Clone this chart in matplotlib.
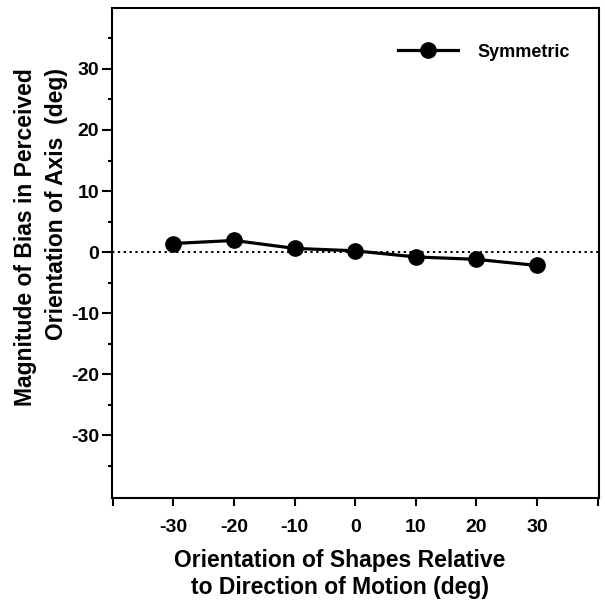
import numpy as np
import matplotlib.pyplot as plt

plt.rcParams['font.family'] = ['Liberation Sans', 'DejaVu Sans']
plt.rcParams['font.weight'] = 'bold'
plt.rcParams['axes.unicode_minus'] = False

orient = [-30, -20, -10, 0, 10, 20, 30]
bias = [1.4, 1.9, 0.6, 0.2, -0.8, -1.2, -2.2]
xticks = [-40, -30, -20, -10, 0, 10, 20, 30, 40]
xticklabels = ['', '-30', '-20', '-10', '0', '10', '20', '30', '']
yticks = [-30, -20, -10, 0, 10, 20, 30]

fig = plt.figure(figsize=(6.05, 6.02), dpi=100)
ax = fig.add_axes([0.1843, 0.1728, 0.8066, 0.814])

ax.axhline(0, color='black', linestyle=(0, (1.2, 1.8)), linewidth=1.4)
ax.plot(orient, bias, color='black', linewidth=2.3, marker='o', markersize=11,
        label='Symmetric')

ax.set_xlim(-40.2, 40.3)
ax.set_ylim(-40.3, 40)
ax.set_xticks(xticks)
ax.set_xticklabels(xticklabels)
ax.set_yticks(yticks)
ax.set_yticks(np.arange(-35, 40, 10), minor=True)
ax.tick_params(axis='both', which='major', labelsize=14, width=1.5)
ax.tick_params(axis='x', which='major', length=6, pad=9)
ax.tick_params(axis='y', which='major', length=7, pad=2)
ax.tick_params(axis='y', which='minor', length=3, width=1.5)
for s in ax.spines.values():
    s.set_linewidth(1.5)

ax.set_xlabel('Orientation of Shapes Relative\nto Direction of Motion (deg)',
              fontsize=16.5, fontweight='bold', linespacing=1.2)
ax.xaxis.set_label_coords(0.468, -0.104)
ax.set_ylabel('Magnitude of Bias in Perceived\nOrientation of Axis  (deg)',
              fontsize=16.5, fontweight='bold', linespacing=1.4,
              multialignment='right')
ax.yaxis.set_label_coords(-0.09, 0.533)

leg = ax.legend(loc='center left', frameon=False, fontsize=13, handlelength=3.3,
                handletextpad=1.1, borderpad=0, borderaxespad=0,
                bbox_to_anchor=(0.587, 0.91))

fig.savefig('out.png', dpi=100)
